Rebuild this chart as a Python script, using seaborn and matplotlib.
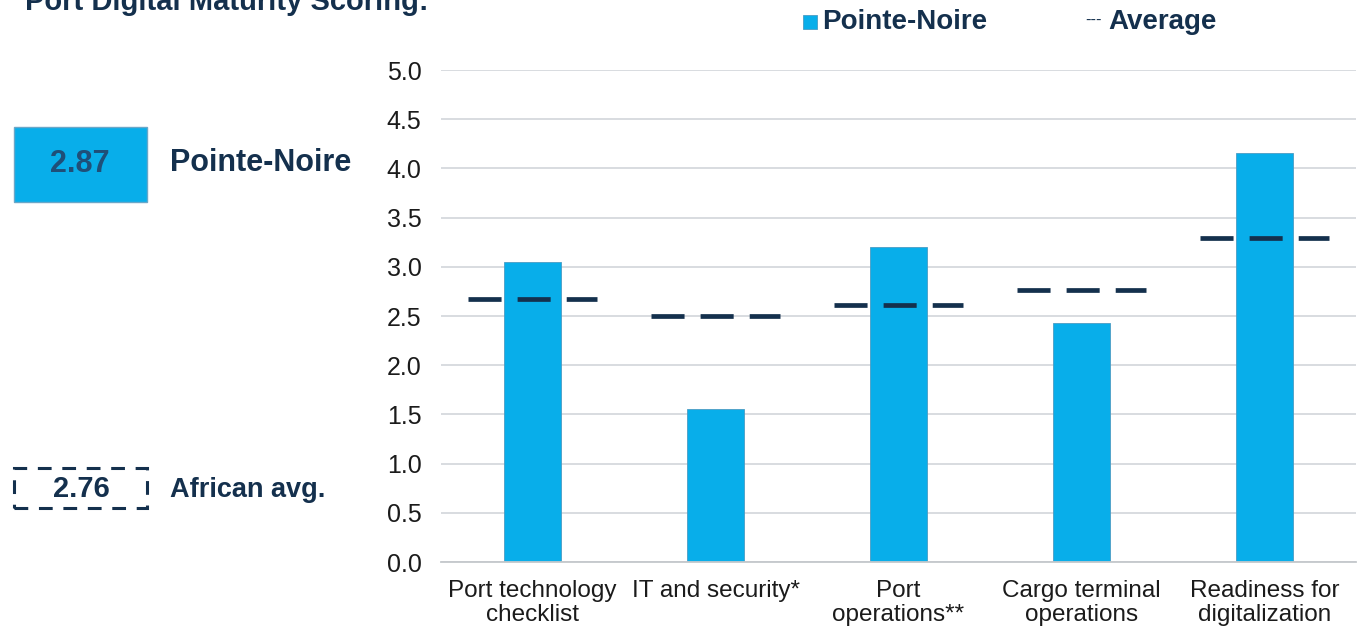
import matplotlib
matplotlib.use("Agg")
import matplotlib.pyplot as plt
from matplotlib.patches import Rectangle
import numpy as np
import pandas as pd
import seaborn as sns

# Scores per maturity dimension
categories = ["Port technology\nchecklist", "IT and security*", "Port\noperations**",
              "Cargo terminal\noperations", "Readiness for\ndigitalization"]
pointe_noire = [3.05, 1.55, 3.20, 2.43, 4.16]
african_avg = [2.67, 2.50, 2.61, 2.76, 3.29]
overall_port = 2.87
overall_avg = 2.76
yticks = [0.0, 0.5, 1.0, 1.5, 2.0, 2.5, 3.0, 3.5, 4.0, 4.5, 5.0]

BLUE = "#08aeea"
NAVY = "#14304d"
GRID = "#d6d9dd"

sns.set_theme(style="white")
plt.rcParams["font.family"] = ["Liberation Sans", "DejaVu Sans"]

W, H = 1360, 628
fig = plt.figure(figsize=(W / 100, H / 100), dpi=100)

def fx(px):
    return px / W

def fy(py):
    return 1 - py / H

ax = fig.add_axes([fx(441), fy(562), fx(1356) - fx(441), fy(70) - fy(562)])

df = pd.DataFrame({"category": categories, "score": pointe_noire})
sns.barplot(data=df, x="category", y="score", color=BLUE, saturation=1,
            width=0.31, edgecolor="#4a9cc4", linewidth=0.6, ax=ax, zorder=2)

# average markers as dashed segments across each category
xs = np.arange(len(categories))
ax.hlines(african_avg, xs - 0.355, xs + 0.355, colors=NAVY, linewidth=3.4,
          linestyles=(0, (7.0, 3.4)), zorder=3, capstyle="butt")

ax.set_ylim(0, 5.0)
ax.set_xlim(-0.5, len(categories) - 0.5)
ax.set_yticks(yticks)
ax.set_yticklabels([f"{v:.1f}" for v in yticks])
ax.yaxis.grid(True, color=GRID, linewidth=1.3, zorder=0)
ax.set_axisbelow(True)
for s in ["top", "right", "left"]:
    ax.spines[s].set_visible(False)
ax.spines["bottom"].set_color("#c4c8cc")
ax.spines["bottom"].set_linewidth(1.3)
ax.set_xlabel("")
ax.set_ylabel("")
ax.tick_params(axis="y", length=0, pad=14, labelsize=18, labelcolor="#1b1b1b")
ax.tick_params(axis="x", length=0, pad=13, labelsize=17.5, labelcolor="#1b1b1b")
for lbl in ax.get_xticklabels():
    lbl.set_linespacing(1.13)

# title (partly above the canvas)
fig.text(fx(25), fy(10), "Port Digital Maturity Scoring:", fontsize=21,
         fontweight="bold", color=NAVY, va="baseline", ha="left")

# legend
fig.patches.append(Rectangle((fx(803), fy(29)), fx(14), fy(15) - fy(29),
                             transform=fig.transFigure, facecolor=BLUE,
                             edgecolor="#4a9cc4", linewidth=0.6))
fig.text(fx(822), fy(22), "Pointe-Noire", fontsize=20, fontweight="bold",
         color=NAVY, va="center", ha="left")
fig.text(fx(1085), fy(20), "---", fontsize=12, color=NAVY, va="center", ha="left")
fig.text(fx(1108), fy(22), "Average", fontsize=20, fontweight="bold",
         color=NAVY, va="center", ha="left")

# overall score boxes
fig.patches.append(Rectangle((fx(14), fy(202)), fx(147) - fx(14), fy(127) - fy(202),
                             transform=fig.transFigure, facecolor=BLUE,
                             edgecolor="#6aa7c8", linewidth=1.0))
fig.text(fx(80), fy(164), f"{overall_port:.2f}", fontsize=22, fontweight="bold",
         color="#1f4f78", va="center", ha="center")
fig.text(fx(170), fy(163), "Pointe-Noire", fontsize=22, fontweight="bold",
         color=NAVY, va="center", ha="left")

fig.patches.append(Rectangle((fx(14), fy(508)), fx(147) - fx(14), fy(468) - fy(508),
                             transform=fig.transFigure, facecolor="none",
                             edgecolor=NAVY, linewidth=2.2,
                             linestyle=(0, (4.5, 3.5))))
fig.text(fx(81), fy(489), f"{overall_avg:.2f}", fontsize=21, fontweight="bold",
         color=NAVY, va="center", ha="center")
fig.text(fx(170), fy(490), "African avg.", fontsize=19.5, fontweight="bold",
         color=NAVY, va="center", ha="left")

fig.savefig("out.png", dpi=100, facecolor="white")
